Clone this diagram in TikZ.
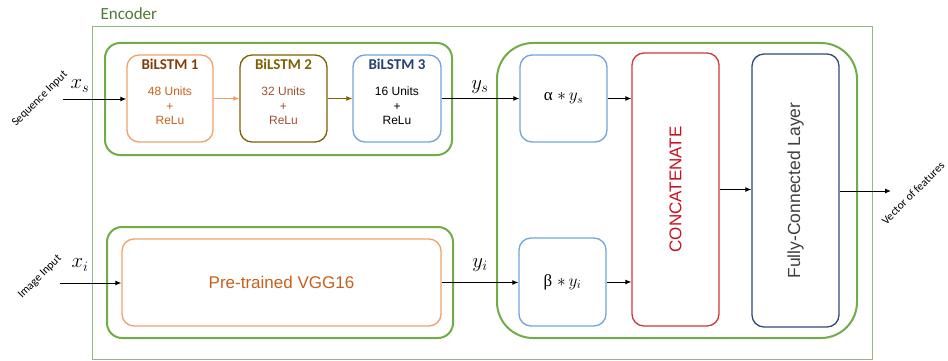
\documentclass[tikz,border=0pt]{standalone}
\usepackage{fontspec}
\setmainfont{Liberation Sans}
\newfontfamily\calibri{Carlito}
\newfontfamily\grk{Liberation Serif}
\usetikzlibrary{arrows.meta,calc}

\definecolor{grn}{HTML}{70AD47}
\definecolor{encline}{HTML}{94B97E}
\definecolor{enctext}{HTML}{4F7A31}
\definecolor{orgline}{HTML}{F2A06A}
\definecolor{orgtext}{HTML}{C8601A}
\definecolor{brntitle}{HTML}{843C0C}
\definecolor{olive}{HTML}{7F6000}
\definecolor{brnbody}{HTML}{9E5030}
\definecolor{bluline}{HTML}{6FA5DA}
\definecolor{navytitle}{HTML}{253F6E}
\definecolor{redline}{HTML}{D43535}
\definecolor{redtext}{HTML}{C8101E}
\definecolor{navyline}{HTML}{2F4A7A}
\definecolor{graytext}{HTML}{404040}

\begin{document}
\begin{tikzpicture}[x=1pt,y=-1pt,
  box/.style={draw, rounded corners=12pt, line width=1.3pt, inner sep=0pt},
  group/.style={draw=grn, rounded corners=15pt, line width=2pt, inner sep=0pt},
  arr/.style={-{Latex[length=6pt,width=5pt]}, line width=1pt},
  title/.style={font=\calibri\fontsize{15}{18}\selectfont\bfseries},
  body/.style={font=\fontsize{12}{14.5}\selectfont, align=center},
  side/.style={font=\calibri\fontsize{11.5}{14}\selectfont, rotate=45, inner sep=0pt},
  mlab/.style={font=\fontsize{21}{24}\selectfont, inner sep=1pt}
]
\useasboundingbox (0,0) rectangle (948,361);

% encoder frame
\node[draw=encline, line width=1pt, minimum width=780pt, minimum height=332pt, inner sep=0pt] (enc) at (482,193) {};
\node[anchor=west, text=enctext, font=\calibri\fontsize{17}{20}\selectfont] (enclab) at (97,14) {Encoder};

% sequence branch
\node[group, minimum width=347pt, minimum height=112pt] (seqg) at (278.5,99) {};
\node[box, draw=orgline, minimum width=86pt, minimum height=87pt] (b1) at (170,98.5) {};
\node[box, draw=olive, minimum width=87pt, minimum height=87pt] (b2) at (283.5,98.5) {};
\node[box, draw=bluline, minimum width=88pt, minimum height=87pt] (b3) at (397,98.5) {};

\node[title, text=brntitle] (b1t) at ($(b1.north)+(0,10)$) {BiLSTM 1};
\node[title, text=olive] (b2t) at ($(b2.north)+(0,10)$) {BiLSTM 2};
\node[title, text=navytitle] (b3t) at ($(b3.north)+(0,10)$) {BiLSTM 3};
\node[body, text=orgtext] (b1b) at ($(b1.center)+(0,7.5)$) {48 Units\\+\\ReLu};
\node[body, text=brnbody] (b2b) at ($(b2.center)+(0,7.5)$) {32 Units\\+\\ReLu};
\node[body, text=black] (b3b) at ($(b3.center)+(0,7.5)$) {16 Units\\+\\ReLu};

% image branch
\node[group, minimum width=346pt, minimum height=111pt] (imgg) at (280,282.5) {};
\node[box, draw=orgline, minimum width=319pt, minimum height=87pt, text=orgtext, font=\fontsize{17}{20}\selectfont] (vgg) at (281.5,282.5) {Pre-trained VGG16};

% fusion block
\node[group, rounded corners=36pt, minimum width=360pt, minimum height=295pt] (fus) at (677,190.5) {};
\node[box, draw=bluline, minimum width=87pt, minimum height=87pt, font=\fontsize{17}{20}\selectfont] (alpha) at (563.5,98.5) {{\grk α} $\ast\, y_s$};
\node[box, draw=bluline, minimum width=87pt, minimum height=88pt, font=\fontsize{17}{20}\selectfont] (beta) at (562.5,282) {{\grk β} $\ast\, y_i$};
\node[box, draw=redline, minimum width=87pt, minimum height=273pt] (cat) at (675.5,189.5) {};
\node[text=redtext, rotate=90, font=\fontsize{17}{20}\selectfont] (cattxt) at (cat.center) {CONCATENATE};
\node[box, draw=navyline, minimum width=87pt, minimum height=273pt] (fc) at (795.5,190.5) {};
\node[text=graytext, rotate=90, font=\fontsize{17.5}{20}\selectfont] (fctxt) at (fc.center) {Fully-Connected Layer};

% inputs and output
\coordinate (sin) at (63,99);
\coordinate (iin) at (60,283);
\coordinate (vout) at (891,191);
\node[side] (seqlab) at (40,99) {Sequence Input};
\node[side] (imglab) at (40,277) {Image Input};
\node[side] (veclab) at (913,193) {Vector of features};
\node[mlab] (xs) at (80,86) {$x_s$};
\node[mlab] (xi) at (80,265) {$x_i$};
\node[mlab] (ys) at (480,87) {$y_s$};
\node[mlab] (yi) at (480,265) {$y_i$};

% connectors
\draw[arr] (sin) -- (b1.west |- sin);
\draw[arr, draw=orgline] (b1.east) -- (b2.west);
\draw[arr, draw=olive] (b2.east) -- (b3.west);
\draw[arr] (b3.east) -- (alpha.west);
\draw[arr] (alpha.east) -- (alpha.east -| cat.west);
\draw[arr] (iin) -- (vgg.west |- iin);
\draw[arr] (vgg.east) -- (vgg.east -| beta.west);
\draw[arr] (beta.east) -- (beta.east -| cat.west);
\draw[arr] (cat.east) -- (cat.east -| fc.west);
\draw[arr] (fc.east |- vout) -- (vout);
\end{tikzpicture}
\end{document}
